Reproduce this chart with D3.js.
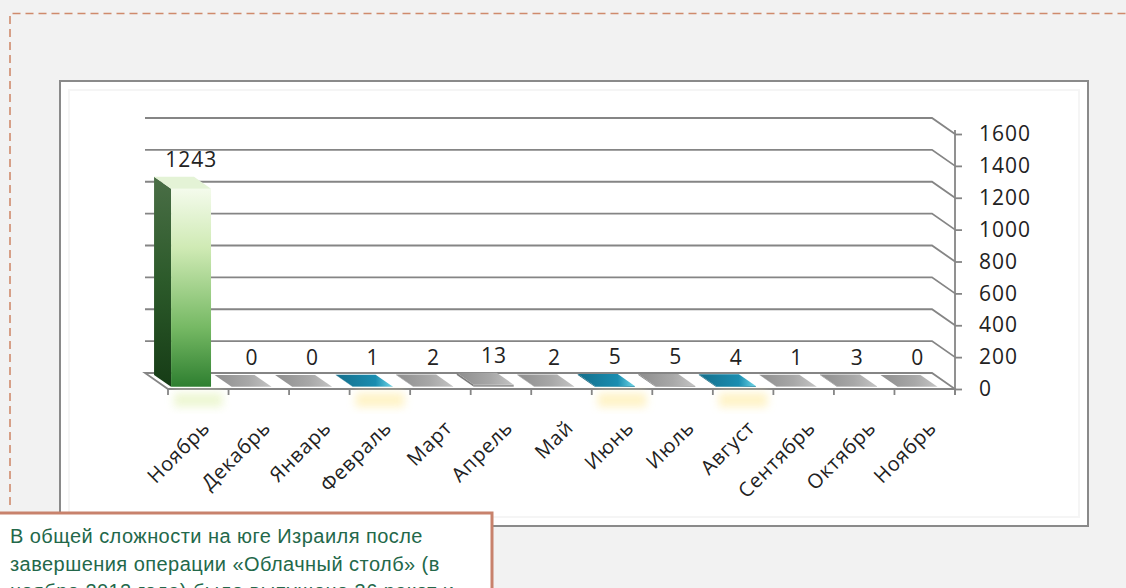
<!DOCTYPE html>
<html>
<head>
<meta charset="utf-8">
<script src="https://cdn.jsdelivr.net/npm/d3@7"></script>
<style>
  body { margin: 0; background: #f2f2f2; }
  svg { display: block; }
</style>
</head>
<body>
<svg id="chart" width="1126" height="588"></svg>
<script>
// data
const months = ["Ноябрь", "Декабрь", "Январь", "Февраль", "Март", "Апрель", "Май",
                "Июнь", "Июль", "Август", "Сентябрь", "Октябрь", "Ноябрь"];
const launches = [1243, 0, 0, 1, 2, 13, 2, 5, 5, 4, 1, 3, 0];
const barKinds = ["green", "gray", "gray", "teal", "gray", "gray", "gray",
                  "teal", "gray", "teal", "gray", "gray", "gray"];
const yTicks = [0, 200, 400, 600, 800, 1000, 1200, 1400, 1600];
const noteLines = [
    "В общей сложности на юге Израиля после",
    "завершения операции «Облачный столб» (в",
    "ноябре 2012 года) было выпущено 36 ракет и"
];

const svg = d3.select("#chart");
const defs = svg.append("defs");

// depth offset from the back wall to the front edge
const dx = 23, dy = 16;
const z0 = 0.12, z1 = 0.86;

const x = d3.scaleBand()
    .domain(d3.range(months.length))
    .range([145, 932]);
const y = d3.scaleLinear()
    .domain([0, 1600])
    .range([373, 118]);
const yFront = y.copy().range([373 + dy, 118 + dy]);

const grad = (id, stops, vertical) => {
    let g = defs.append("linearGradient").attr("id", id)
        .attr("x1", 0).attr("y1", 0)
        .attr("x2", vertical ? 0 : 1).attr("y2", vertical ? 1 : 0);
    stops.forEach(([o, c]) => g.append("stop").attr("offset", o).attr("stop-color", c));
};
grad("greenFront", [[0, "#f4fbec"], [0.3, "#cfeab4"], [0.7, "#76b964"], [1, "#2e7f30"]], true);
grad("greenSide", [[0, "#4a6e46"], [0.5, "#2c5a2a"], [1, "#163c16"]], true);
grad("grayTop", [[0, "#8e8e8e"], [0.6, "#a8a8a8"], [1, "#c4c4c4"]], false);
grad("tealTop", [[0, "#146f8c"], [0.7, "#1a8db0"], [1, "#6fd6e6"]], false);

let blur = defs.append("filter").attr("id", "soft")
    .attr("x", "-50%").attr("y", "-50%").attr("width", "200%").attr("height", "200%");
blur.append("feGaussianBlur").attr("stdDeviation", 4);

const kindStyle = {
    green: {front: "url(#greenFront)", side: "url(#greenSide)", top: "#e4f3d6", glow: "#e9f5c8"},
    gray: {front: "#9a9a9a", side: "#7c7c7c", top: "url(#grayTop)", glow: null},
    teal: {front: "#16809f", side: "#0f5d75", top: "url(#tealTop)", glow: "#fff0b8"}
};

// dashed frame of the page
svg.append("path")
    .attr("d", "M10,505 L10,13.5 L1126,13.5")
    .attr("fill", "none")
    .attr("stroke", "#cf8a6c")
    .attr("stroke-width", 1.6)
    .attr("stroke-dasharray", "8,5");

// chart panel
svg.append("rect")
    .attr("x", 60).attr("y", 81).attr("width", 1028).attr("height", 445)
    .attr("fill", "#ffffff").attr("stroke", "#8a8a8a").attr("stroke-width", 2);
svg.append("rect")
    .attr("x", 69).attr("y", 90).attr("width", 1010).attr("height", 427)
    .attr("fill", "none").attr("stroke", "#f5f5f5").attr("stroke-width", 2);

let plot = svg.append("g").attr("id", "plot");

// back wall gridlines with their run down to the front axis
let grid = plot.append("g").attr("stroke", "#858585").attr("stroke-width", 1.8).attr("fill", "none");
yTicks.filter(t => t > 0).forEach(t => {
    grid.append("path")
        .attr("d", `M${x.range()[0]},${y(t)} L${x.range()[1]},${y(t)} L${x.range()[1] + dx},${yFront(t)}`);
});

// floor
const fx0 = x.range()[0], fx1 = x.range()[1];
plot.append("path")
    .attr("d", `M${fx0},${y(0)} L${fx1},${y(0)} L${fx1 + dx},${yFront(0)} L${fx0 + dx},${yFront(0)} Z`)
    .attr("fill", "#ffffff").attr("stroke", "#858585").attr("stroke-width", 1.8);

// soft reflections under the coloured bars
plot.append("g").selectAll("rect")
    .data(launches.map((v, i) => i).filter(i => kindStyle[barKinds[i]].glow))
    .join("rect")
    .attr("x", i => x(i) + dx + 6)
    .attr("y", yFront(0) + 4)
    .attr("width", x.bandwidth() - 12)
    .attr("height", 14)
    .attr("fill", i => kindStyle[barKinds[i]].glow)
    .attr("opacity", 0.8)
    .attr("filter", "url(#soft)");

// bars
const barW = x.bandwidth() * 0.66;
const pt = (px, v, z) => [px + z * dx, y(v) + z * dy];
let bars = plot.append("g").selectAll("g")
    .data(launches.map((v, i) => ({v, i, s: kindStyle[barKinds[i]]})))
    .join("g");

bars.each(function (d) {
    let g = d3.select(this);
    let xl = x(d.i) + (x.bandwidth() - barW) / 2 - 4;
    let xr = xl + barW;
    let poly = pts => pts.map(p => p.join(",")).join(" ");
    if (d.v > 0) {
        g.append("polygon")
            .attr("points", poly([pt(xl, d.v, z0), pt(xl, d.v, z1), pt(xl, 0, z1), pt(xl, 0, z0)]))
            .attr("fill", d.s.side);
        g.append("polygon")
            .attr("points", poly([pt(xl, d.v, z1), pt(xr, d.v, z1), pt(xr, 0, z1), pt(xl, 0, z1)]))
            .attr("fill", d.s.front);
    }
    g.append("polygon")
        .attr("points", poly([pt(xl, d.v, z0), pt(xr, d.v, z0), pt(xr, d.v, z1), pt(xl, d.v, z1)]))
        .attr("fill", d.s.top);
});

// value labels
plot.append("g")
    .attr("font-family", "'Open Sans', sans-serif")
    .attr("font-size", 21)
    .attr("fill", "#222")
    .attr("letter-spacing", 1)
    .attr("text-anchor", "middle")
    .selectAll("text")
    .data(launches)
    .join("text")
    .attr("x", (v, i) => x(i) + x.bandwidth() / 2 + 0.7 * dx)
    .attr("y", v => y(v) + 0.2 * dy - 11)
    .text(v => v);

// value axis on the right, at the front corner
let yAxis = plot.append("g")
    .attr("transform", `translate(${fx1 + dx},0)`)
    .call(d3.axisRight(yFront).tickValues(yTicks).tickFormat(d3.format("d"))
        .tickSize(7).tickSizeOuter(0).tickPadding(17));
yAxis.select(".domain").attr("stroke", "#858585").attr("stroke-width", 1.8)
    .attr("d", `M0,${yFront(1600) - 4} V${yFront(0) + 6}`);
yAxis.selectAll(".tick line").attr("stroke", "#858585").attr("stroke-width", 1.8);
yAxis.selectAll(".tick text")
    .attr("font-family", "'Open Sans', sans-serif")
    .attr("font-size", 21)
    .attr("letter-spacing", 1)
    .attr("fill", "#222");

// category ticks along the front edge of the floor
let cats = plot.append("g");
cats.selectAll("line")
    .data(d3.range(months.length + 1))
    .join("line")
    .attr("x1", i => fx0 + dx + i * x.step())
    .attr("x2", i => fx0 + dx + i * x.step())
    .attr("y1", yFront(0))
    .attr("y2", yFront(0) + 6)
    .attr("stroke", "#858585").attr("stroke-width", 1.8);

cats.selectAll("text")
    .data(months)
    .join("text")
    .attr("transform", (m, i) => `translate(${x(i) + x.bandwidth() / 2 + dx + 13},${yFront(0) + 40}) rotate(-45)`)
    .attr("text-anchor", "end")
    .attr("font-family", "'Open Sans', sans-serif")
    .attr("font-size", 20)
    .attr("letter-spacing", 0.8)
    .attr("fill", "#222")
    .text(m => m);

// note box in the lower left corner
let note = svg.append("g");
note.append("rect")
    .attr("x", -3).attr("y", 513).attr("width", 495).attr("height", 90)
    .attr("fill", "#ffffff").attr("stroke", "#c8826c").attr("stroke-width", 3);
note.selectAll("text")
    .data(noteLines)
    .join("text")
    .attr("x", 10)
    .attr("y", (t, i) => 543 + i * 27.5)
    .attr("font-family", "'Liberation Sans', Arial, sans-serif")
    .attr("font-size", 20)
    .attr("letter-spacing", 0.45)
    .attr("fill", "#23684a")
    .text(t => t);
</script>
</body>
</html>
